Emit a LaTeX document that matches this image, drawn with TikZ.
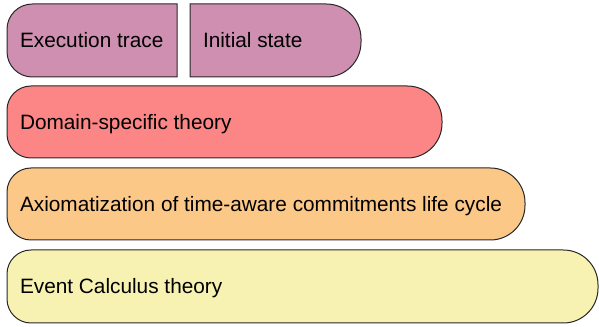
\documentclass[tikz,border=0pt]{standalone}
\usepackage{fontspec}
\setmainfont{Liberation Sans}

\definecolor{traceclr}{RGB}{206,143,176}
\definecolor{domainclr}{RGB}{252,133,133}
\definecolor{axiomclr}{RGB}{252,200,136}
\definecolor{ecclr}{RGB}{248,242,178}

\tikzset{every picture/.style={line width=0.75pt}}
\tikzset{layer/.style={draw={rgb,255:red,40;green,40;blue,40}},
         layertext/.style={anchor=base west,inner sep=0pt,font=\fontsize{15.6}{18}\selectfont}}

\begin{document}
\begin{tikzpicture}[x=0.75pt,y=0.75pt,yscale=-1,xscale=1]
%set diagram left start at 0, and has height of 327
\path[use as bounding box] (0,0) rectangle (599,327);

%Shape: Execution trace
\draw [layer,fill=traceclr] (92,4) [sharp corners] -- (177,4) -- (177,77) -- (92,77) [rounded corners=19] -- (7,77) -- (7,4) -- cycle ;
%Shape: Initial state
\draw [layer,fill=traceclr] (275,4) [rounded corners=26] -- (361,4) -- (361,77) -- (275,77) [sharp corners] -- (190,77) -- (190,4) -- cycle ;
%Shape: Domain-specific theory
\draw [layer,fill=domainclr] (224,86) [rounded corners=26] -- (442,86) -- (442,158) -- (224,158) [rounded corners=18] -- (7,158) -- (7,86) -- cycle ;
%Shape: Axiomatization
\draw [layer,fill=axiomclr] (266,168) [rounded corners=26] -- (525,168) -- (525,240) -- (266,240) [rounded corners=18] -- (7,240) -- (7,168) -- cycle ;
%Shape: Event Calculus theory
\draw [layer,fill=ecclr] (302,250) [rounded corners=26] -- (598,250) -- (598,323) -- (302,323) [rounded corners=18] -- (7,323) -- (7,250) -- cycle ;

\node (trace) [layertext] at (19.5,48) {Execution trace};
\node (init) [layertext] at (202.5,48) {Initial state};
\node (domain) [layertext] at (19.5,129.5) {Domain-specific theory};
\node (axiom) [layertext] at (19.5,211.5) {Axiomatization of time-aware commitments life cycle};
\node (ec) [layertext] at (19.5,294) {Event Calculus theory};

\end{tikzpicture}
\end{document}
